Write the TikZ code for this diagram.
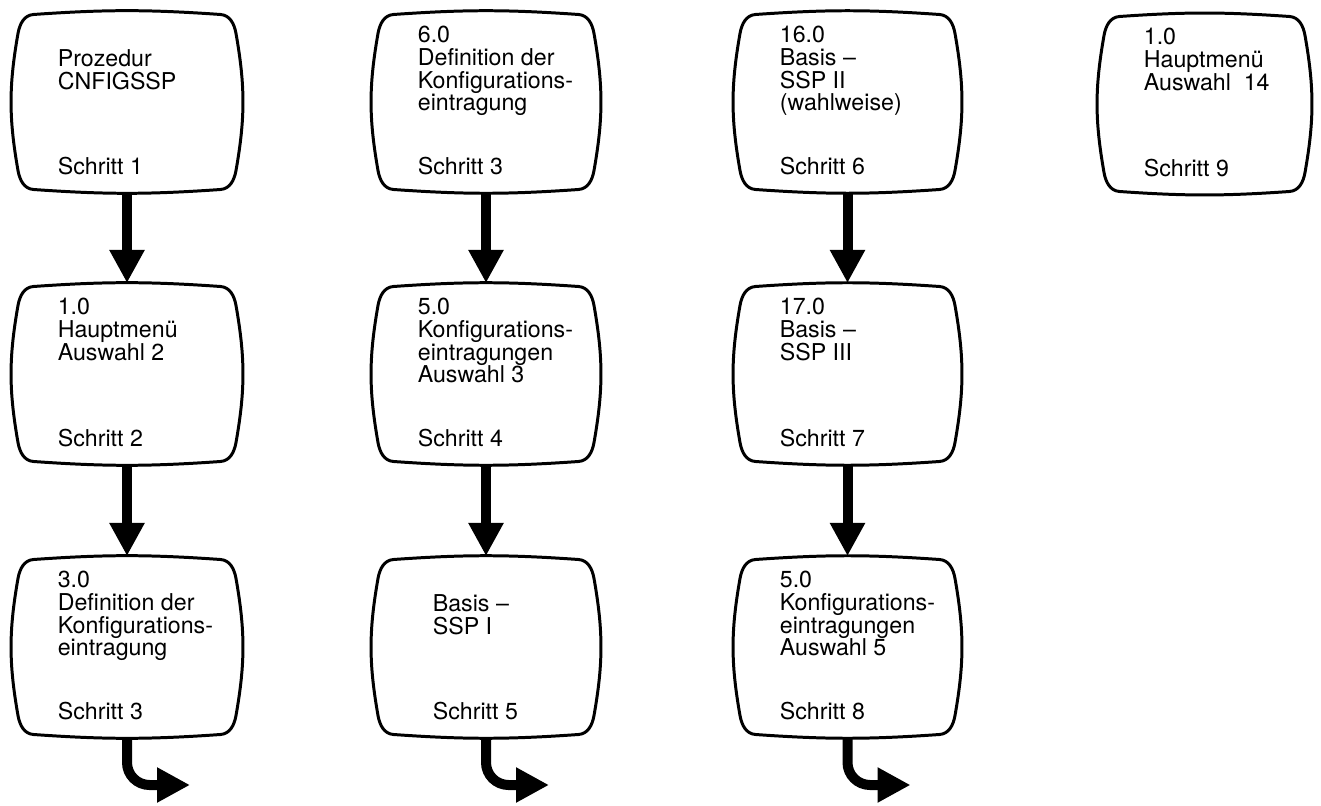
\documentclass[tikz,border=0pt]{standalone}
\usepackage{fontspec}
\setmainfont{TeX Gyre Heros}
\usetikzlibrary{arrows.meta,positioning}

\tikzset{
  screen/.style={minimum height=3.64cm, inner sep=0pt, outer sep=0pt},
  tvline/.style={line width=1.7pt, line join=round},
  txt/.style={inner sep=0pt, align=left, font=\fontsize{13.2}{12.9}\selectfont},
  flow/.style={line width=0.2cm, -{Triangle[length=0.66cm,width=0.66cm]}},
}

\begin{document}
\begin{tikzpicture}
    \useasboundingbox (0,0) rectangle (26.42,-16.12);

    % screens
    \node[screen, minimum width=4.64cm] (s1) at (2.54,-2.04) {};
    \node[screen, minimum width=4.64cm] (s2) at (2.54,-7.48) {};
    \node[screen, minimum width=4.64cm] (s3) at (2.54,-12.94) {};
    \node[screen, minimum width=4.6cm] (s3b) at (9.72,-2.04) {};
    \node[screen, minimum width=4.6cm] (s4) at (9.72,-7.48) {};
    \node[screen, minimum width=4.6cm] (s5) at (9.72,-12.94) {};
    \node[screen, minimum width=4.58cm] (s6) at (16.95,-2.04) {};
    \node[screen, minimum width=4.58cm] (s7) at (16.95,-7.48) {};
    \node[screen, minimum width=4.58cm] (s8) at (16.95,-12.94) {};
    \node[screen, minimum width=4.3cm] (s9) at (24.09,-2.08) {};

    \foreach \s in {s1,s2,s3,s3b,s4,s5,s6,s7,s8,s9}
        \draw[tvline] ([shift={(0.14,-0.45)}]\s.north west) to[out=80,in=184] ([shift={(0.45,-0.07)}]\s.north west)
            to[out=4,in=176] ([shift={(-0.45,-0.07)}]\s.north east) to[out=-4,in=100] ([shift={(-0.14,-0.45)}]\s.north east)
            to[out=-80,in=80] ([shift={(-0.14,0.45)}]\s.south east) to[out=-100,in=4] ([shift={(-0.45,0.07)}]\s.south east)
            to[out=184,in=-4] ([shift={(0.45,0.07)}]\s.south west) to[out=176,in=-80] ([shift={(0.14,0.45)}]\s.south west)
            to[out=100,in=-100] ([shift={(0.14,-0.45)}]\s.north west) -- cycle;

    % texts
    \node[txt, below right=0.77cm and 0.93cm of s1.north west] (t1) {Prozedur\\CNFIGSSP};
    \node[txt, below right=0.3cm and 0.93cm of s2.north west] (t2) {1.0\\Hauptmenü\\Auswahl 2};
    \node[txt, below right=0.3cm and 0.93cm of s3.north west] (t3) {3.0\\Definition der\\Konfigurations-\\eintragung};
    \node[txt, below right=0.3cm and 0.93cm of s3b.north west] (t3b) {6.0\\Definition der\\Konfigurations-\\eintragung};
    \node[txt, below right=0.3cm and 0.93cm of s4.north west] (t4) {5.0\\Konfigurations-\\eintragungen\\Auswahl 3};
    \node[txt, below right=0.77cm and 1.23cm of s5.north west] (t5) {Basis --\\SSP I};
    \node[txt, below right=0.3cm and 0.93cm of s6.north west] (t6) {16.0\\Basis --\\SSP II\\(wahlweise)};
    \node[txt, below right=0.3cm and 0.93cm of s7.north west] (t7) {17.0\\Basis --\\SSP III};
    \node[txt, below right=0.3cm and 0.93cm of s8.north west] (t8) {5.0\\Konfigurations-\\eintragungen\\Auswahl 5};
    \node[txt, below right=0.3cm and 0.93cm of s9.north west] (t9) {1.0\\Hauptmenü\\Auswahl~~14};

    \node[txt, above right=0.36cm and 0.93cm of s1.south west] (n1) {Schritt 1};
    \node[txt, above right=0.36cm and 0.93cm of s2.south west] (n2) {Schritt 2};
    \node[txt, above right=0.36cm and 0.93cm of s3.south west] (n3) {Schritt 3};
    \node[txt, above right=0.36cm and 0.93cm of s3b.south west] (n3b) {Schritt 3};
    \node[txt, above right=0.36cm and 0.93cm of s4.south west] (n4) {Schritt 4};
    \node[txt, above right=0.36cm and 1.23cm of s5.south west] (n5) {Schritt 5};
    \node[txt, above right=0.36cm and 0.93cm of s6.south west] (n6) {Schritt 6};
    \node[txt, above right=0.36cm and 0.93cm of s7.south west] (n7) {Schritt 7};
    \node[txt, above right=0.36cm and 0.93cm of s8.south west] (n8) {Schritt 8};
    \node[txt, above right=0.36cm and 0.93cm of s9.south west] (n9) {Schritt 9};

    % arrows
    \draw[flow] (s1.south) -- (s2.north);
    \draw[flow] (s2.south) -- (s3.north);
    \draw[flow] (s3b.south) -- (s4.north);
    \draw[flow] (s4.south) -- (s5.north);
    \draw[flow] (s6.south) -- (s7.north);
    \draw[flow] (s7.south) -- (s8.north);

    \coordinate[below right=0.94cm and 1.26cm of s3.south] (e3);
    \coordinate[below right=0.94cm and 1.26cm of s5.south] (e5);
    \coordinate[below right=0.94cm and 1.26cm of s8.south] (e8);
    \draw[flow, rounded corners=0.45cm] (s3.south) |- (e3);
    \draw[flow, rounded corners=0.45cm] (s5.south) |- (e5);
    \draw[flow, rounded corners=0.45cm] (s8.south) |- (e8);
\end{tikzpicture}
\end{document}
